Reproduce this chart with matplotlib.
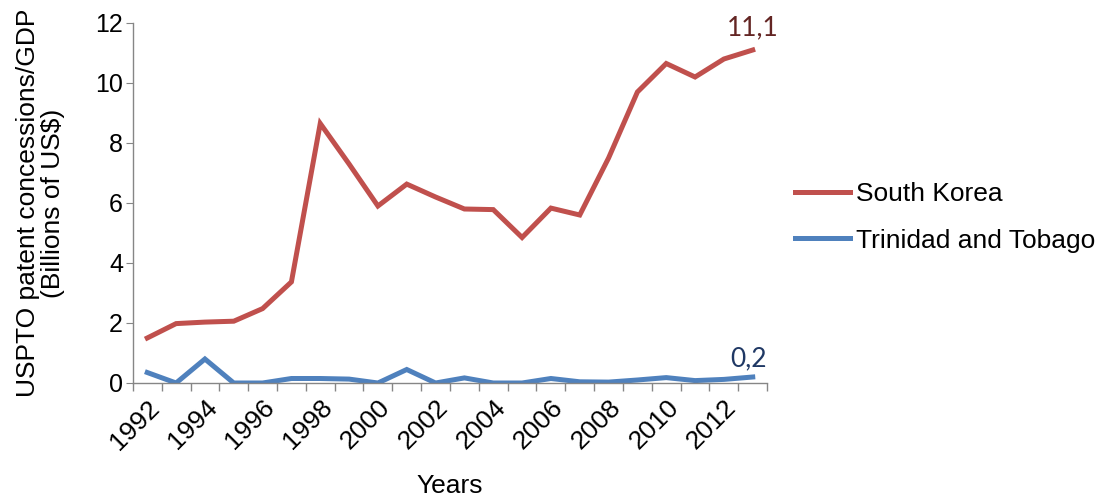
import numpy as np
import matplotlib
matplotlib.use('Agg')
import matplotlib.pyplot as plt
from matplotlib.transforms import ScaledTranslation

years = list(range(1992, 2014))
korea = [1.5, 1.98, 2.03, 2.06, 2.48, 3.37, 8.65, 7.3, 5.9, 6.63, 6.2,
         5.8, 5.78, 4.85, 5.83, 5.6, 7.5, 9.7, 10.65, 10.2, 10.8, 11.1]
trinidad = [0.35, 0.0, 0.8, 0.0, 0.0, 0.15, 0.15, 0.13, 0.0, 0.45, 0.0,
            0.17, 0.0, 0.0, 0.15, 0.04, 0.03, 0.1, 0.18, 0.08, 0.12, 0.2]
labels = [str(y) for y in years]

plt.rcParams['font.family'] = ['Liberation Sans', 'DejaVu Sans']

fig = plt.figure(figsize=(11.07, 5), dpi=100)
ax = fig.add_axes([0.120, 0.234, 0.573, 0.72])

x = np.arange(len(years))
ax.plot(x, korea, color='#C0504D', lw=3.6, label='South Korea', solid_joinstyle='miter')
ax.plot(x, trinidad, color='#4F81BD', lw=3.6, label='Trinidad and Tobago', solid_joinstyle='miter')

# end-of-series value labels, decimal comma
ax.annotate(f"{korea[-1]:.1f}".replace('.', ','), (x[-1], korea[-1]),
            xytext=(0, 7), textcoords='offset points', ha='center', va='bottom',
            color='#632523', fontsize=19, family='Lato')
ax.annotate(f"{trinidad[-1]:.1f}".replace('.', ','), (x[-1], trinidad[-1]),
            xytext=(-3, 4), textcoords='offset points', ha='center', va='bottom',
            color='#1F3864', fontsize=19, family='Lato')

ax.set_xlim(-0.5, len(years) - 0.5)
ax.set_ylim(0, 12)
ax.set_yticks(range(0, 13, 2))

ax.set_xticks(np.arange(-0.5, len(years), 1))
ax.set_xticklabels([])
ax.set_xticks(x[::2], minor=True)
ax.set_xticklabels(labels[::2], minor=True, rotation=45, ha='right',
                   rotation_mode='anchor', fontsize=19)
shift = ScaledTranslation(8 / 100, 0, fig.dpi_scale_trans)
for lbl in ax.get_xticklabels(minor=True):
    lbl.set_transform(lbl.get_transform() + shift)
ax.tick_params(axis='x', which='major', length=6, color='#868686', width=1)
ax.tick_params(axis='x', which='minor', length=0, pad=9)
ax.tick_params(axis='y', length=5, color='#868686', labelsize=18, pad=2)

for s in ['top', 'right']:
    ax.spines[s].set_visible(False)
for s in ['left', 'bottom']:
    ax.spines[s].set_color('#868686')
    ax.spines[s].set_linewidth(1)

ax.set_xlabel('Years', fontsize=19, labelpad=14)
ax.set_ylabel('USPTO patent concessions/GDP\n(Billions of US$)', fontsize=19,
              linespacing=1.05, labelpad=22)

ax.legend(loc='center left', bbox_to_anchor=(1.044, 0.46), frameon=False,
          fontsize=19, handlelength=2.1, handletextpad=0.2, labelspacing=0.85,
          borderaxespad=0, borderpad=0)

fig.savefig('out.png', dpi=100)
